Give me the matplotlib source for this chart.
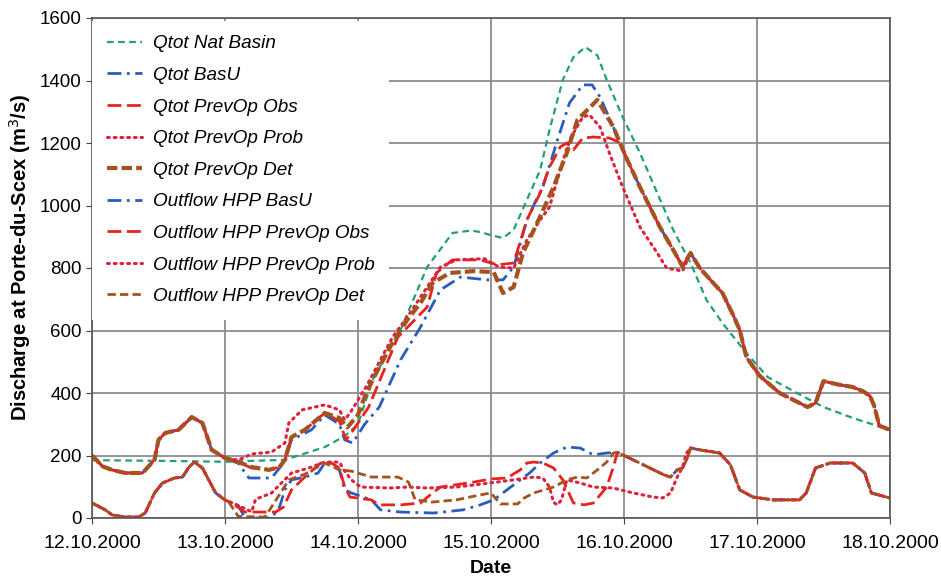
import matplotlib
matplotlib.use("Agg")
import matplotlib.pyplot as plt

plt.rcParams["font.family"] = ["Liberation Sans", "DejaVu Sans"]

# time axis in days after 12.10.2000 00:00
date_labels = ["12.10.2000", "13.10.2000", "14.10.2000", "15.10.2000",
               "16.10.2000", "17.10.2000", "18.10.2000"]

# total discharge, natural basin
nat_days = [0, 0.5, 1.0, 1.45, 1.75, 1.9, 2.0, 2.11, 2.32, 2.52, 2.71, 2.85, 2.92,
            3.0, 3.09, 3.17, 3.27, 3.37, 3.44, 3.54, 3.62, 3.71, 3.8, 3.87, 3.99,
            4.12, 4.25, 4.37, 4.5, 4.62, 4.74, 4.92, 5.08, 5.3, 5.5, 5.72, 6.0]
nat_q = [185, 183, 180, 186, 227, 262, 300, 442, 602, 803, 912, 920, 915,
         905, 896, 922, 1018, 1114, 1242, 1402, 1475, 1507, 1480, 1402, 1283,
         1168, 1040, 922, 816, 698, 624, 528, 451, 400, 355, 320, 282]

# Qtot: common start (day 0-1) and common end (day 4-6)
qtot_head_days = [0, 0.08, 0.15, 0.25, 0.38, 0.47, 0.5, 0.55, 0.65, 0.75, 0.83, 0.9, 1.0]
qtot_head_q = [200, 165, 154, 144, 144, 186, 250, 272, 282, 323, 304, 218, 192]
qtot_tail_days = [3.97, 4.02, 4.12, 4.27, 4.37, 4.44, 4.5, 4.57, 4.65, 4.74, 4.82, 4.87,
                  4.92, 5.02, 5.17, 5.38, 5.44, 5.5, 5.6, 5.72, 5.8, 5.85, 5.88,
                  5.92, 6.0]
qtot_tail_q = [1200, 1150, 1059, 931, 858, 805, 848, 800, 762, 720, 650, 602,
               515, 455, 400, 355, 368, 438, 428, 419, 405, 390, 360,
               295, 282]

basu_mid_days = [1.1, 1.18, 1.35, 1.41, 1.45, 1.5, 1.65, 1.75, 1.86, 1.9, 1.96,
                 2.05, 2.16, 2.32, 2.47, 2.62, 2.77, 2.97, 3.09, 3.17, 3.27, 3.35,
                 3.39, 3.5, 3.59, 3.69, 3.76, 3.82, 3.92]
basu_mid_q = [175, 128, 128, 160, 186, 250, 282, 330, 300, 250, 240,
              300, 355, 506, 611, 730, 771, 762, 762, 803, 954, 1027,
              1059, 1210, 1328, 1386, 1386, 1347, 1251]

obs_mid_days = [1.1, 1.2, 1.33, 1.41, 1.45, 1.5, 1.6, 1.75, 1.86, 1.91, 1.95,
                2.08, 2.3, 2.52, 2.59, 2.71, 2.92, 3.05, 3.17, 3.27, 3.37, 3.44,
                3.52, 3.57, 3.62, 3.69, 3.77, 3.89, 3.95]
obs_mid_q = [179, 160, 154, 163, 186, 259, 282, 336, 310, 250, 272,
             355, 579, 675, 784, 826, 826, 810, 816, 954, 1040, 1123,
             1187, 1200, 1178, 1216, 1219, 1216, 1205]

prob_mid_days = [1.1, 1.2, 1.35, 1.45, 1.48, 1.58, 1.75, 1.86, 1.9, 1.94, 2.06,
                 2.26, 2.37, 2.52, 2.62, 2.74, 2.95, 3.06, 3.17, 3.27, 3.37, 3.44,
                 3.52, 3.59, 3.69, 3.74, 3.82, 3.89, 3.99, 4.12, 4.25, 4.32, 4.44]
prob_mid_q = [185, 205, 211, 240, 304, 346, 362, 346, 314, 336, 419,
              579, 643, 739, 803, 826, 830, 803, 800, 890, 954, 995,
              1114, 1210, 1283, 1290, 1251, 1168, 1059, 931, 848, 800, 790]

det_mid_days = [1.1, 1.2, 1.33, 1.41, 1.45, 1.5, 1.6, 1.75, 1.86, 1.92, 2.0,
                2.05, 2.11, 2.24, 2.37, 2.47, 2.56, 2.69, 2.87, 3.02, 3.09, 3.17,
                3.24, 3.37, 3.47, 3.57, 3.65, 3.8, 3.92]
det_mid_q = [179, 163, 154, 163, 186, 259, 282, 336, 320, 290, 330,
             387, 442, 547, 634, 688, 752, 784, 790, 787, 720, 739,
             848, 965, 1059, 1168, 1274, 1338, 1251]

# outflow HPP: common start and end
out_head_days = [0, 0.1, 0.15, 0.25, 0.35, 0.4, 0.47, 0.53, 0.62, 0.68, 0.73,
                 0.77, 0.83, 0.89, 0.93, 0.98, 1.0]
out_head_q = [48, 26, 10, 3, 3, 16, 80, 112, 128, 131, 163,
              179, 160, 112, 80, 64, 58]
out_tail_days = [3.95, 4.0, 4.18, 4.3, 4.35, 4.4, 4.44, 4.47, 4.5, 4.57, 4.72,
                 4.8, 4.87, 4.97, 5.12, 5.32, 5.37, 5.44, 5.55, 5.72, 5.81, 5.86,
                 6.0]
out_tail_q = [210, 200, 163, 138, 131, 154, 160, 186, 224, 218, 208,
              170, 90, 67, 58, 58, 80, 160, 176, 176, 144, 80,
              64]

out_basu_mid_days = [1.03, 1.1, 1.15, 1.35, 1.41, 1.45, 1.5, 1.6, 1.7, 1.75, 1.8,
                     1.86, 1.9, 1.95, 2.02, 2.1, 2.17, 2.32, 2.57, 2.79, 2.92, 3.02,
                     3.12, 3.22, 3.29, 3.37, 3.47, 3.57, 3.67, 3.77, 3.87]
out_basu_mid_q = [51, 40, 0, 0, 35, 90, 122, 131, 144, 176, 176,
                  154, 90, 80, 70, 58, 26, 19, 16, 26, 42, 58,
                  90, 122, 144, 176, 208, 227, 224, 202, 208]

out_obs_mid_days = [1.05, 1.15, 1.2, 1.38, 1.44, 1.5, 1.6, 1.72, 1.8, 1.86, 1.9,
                    1.94, 2.1, 2.16, 2.32, 2.47, 2.56, 2.62, 2.87, 3.0, 3.12, 3.22,
                    3.27, 3.32, 3.39, 3.47, 3.54, 3.62, 3.7, 3.77, 3.87, 3.92]
out_obs_mid_q = [48, 19, 19, 19, 35, 90, 131, 176, 176, 160, 99,
                 67, 58, 42, 42, 48, 80, 99, 115, 125, 128, 154,
                 176, 179, 176, 160, 122, 48, 42, 48, 99, 163]

out_prob_mid_days = [1.1, 1.2, 1.23, 1.35, 1.41, 1.5, 1.63, 1.75, 1.86, 1.9, 1.95,
                     2.02, 2.24, 2.37, 2.52, 2.74, 2.99, 3.17, 3.32, 3.39, 3.44, 3.47,
                     3.5, 3.53, 3.57, 3.67, 3.77, 3.92, 4.07, 4.22, 4.29, 4.35, 4.4,
                     4.44, 4.47]
out_prob_mid_q = [40, 20, 60, 80, 106, 144, 160, 179, 179, 150, 122,
                  99, 96, 99, 96, 99, 112, 122, 131, 128, 99, 50,
                  42, 58, 122, 112, 99, 96, 80, 67, 64, 80, 131,
                  163, 208]

out_det_mid_days = [1.03, 1.1, 1.3, 1.36, 1.48, 1.6, 1.75, 1.86, 1.95, 2.1, 2.3,
                    2.38, 2.43, 2.56, 2.74, 2.92, 3.0, 3.07, 3.2, 3.25, 3.32, 3.47,
                    3.57, 3.65, 3.72, 3.8, 3.87, 3.92]
out_det_mid_q = [50, 5, 3, 42, 122, 140, 176, 154, 150, 131, 131,
                 115, 58, 51, 58, 74, 80, 45, 45, 64, 80, 99,
                 122, 131, 128, 154, 179, 208]

GREEN = "#22a070"
BLUE = "#2a5cc0"
RED = "#e8231e"
CRIMSON = "#e0203c"
BROWN = "#a5521e"


def join(head_d, head_q, mid_d, mid_q, tail_d, tail_q):
    days = list(head_d) + list(mid_d) + [d for d in tail_d if d > mid_d[-1]]
    q = list(head_q) + list(mid_q) + [v for d, v in zip(tail_d, tail_q) if d > mid_d[-1]]
    return days, q


fig = plt.figure(figsize=(9.41, 5.83), dpi=100)
ax = fig.add_axes([92 / 941, 1 - 518 / 583, 798 / 941, 500 / 583])

series = [
    ("Qtot Nat Basin", (nat_days, nat_q), dict(color=GREEN, lw=1.6, dashes=(3, 2))),
    ("Qtot BasU", join(qtot_head_days, qtot_head_q, basu_mid_days, basu_mid_q,
                       qtot_tail_days, qtot_tail_q),
     dict(color=BLUE, lw=2.0, dashes=(5, 2, 1, 2))),
    ("Qtot PrevOp Obs", join(qtot_head_days, qtot_head_q, obs_mid_days, obs_mid_q,
                             qtot_tail_days, qtot_tail_q),
     dict(color=RED, lw=2.0, dashes=(5, 2))),
    ("Qtot PrevOp Prob", join(qtot_head_days, qtot_head_q, prob_mid_days, prob_mid_q,
                              qtot_tail_days, qtot_tail_q),
     dict(color=CRIMSON, lw=2.2, dashes=(0.6, 1.6), dash_capstyle="round")),
    ("Qtot PrevOp Det", join(qtot_head_days, qtot_head_q, det_mid_days, det_mid_q,
                             qtot_tail_days, qtot_tail_q),
     dict(color=BROWN, lw=3.0, dashes=(2.5, 1))),
    ("Outflow HPP BasU", join(out_head_days, out_head_q, out_basu_mid_days, out_basu_mid_q,
                              out_tail_days, out_tail_q),
     dict(color=BLUE, lw=2.0, dashes=(5, 2, 1, 2))),
    ("Outflow HPP PrevOp Obs", join(out_head_days, out_head_q, out_obs_mid_days, out_obs_mid_q,
                                    out_tail_days, out_tail_q),
     dict(color=RED, lw=2.0, dashes=(5, 2))),
    ("Outflow HPP PrevOp Prob", join(out_head_days, out_head_q, out_prob_mid_days, out_prob_mid_q,
                                     out_tail_days, out_tail_q),
     dict(color=CRIMSON, lw=2.2, dashes=(0.6, 1.6), dash_capstyle="round")),
    ("Outflow HPP PrevOp Det", join(out_head_days, out_head_q, out_det_mid_days, out_det_mid_q,
                                    out_tail_days, out_tail_q),
     dict(color=BROWN, lw=2.0, dashes=(3, 1.5))),
]

for label, (days, q), style in series:
    ax.plot(days, q, label=label, **style)

ax.set_xlim(0, 6)
ax.set_ylim(0, 1600)
ax.set_xticks(range(len(date_labels)))
ax.set_xticklabels(date_labels, fontsize=14)
ax.set_yticks(range(0, 1601, 200))
ax.tick_params(axis="y", labelsize=13.5, length=4, color="#444444")
ax.tick_params(axis="x", length=4, color="#444444", pad=8)
ax.grid(True, color="#8c8c8c", lw=1.3)
ax.set_axisbelow(True)
for side in ax.spines.values():
    side.set_color("#555555")
    side.set_linewidth(1.2)

ax.set_xlabel("Date", fontsize=14, fontweight="bold", labelpad=6)
ax.set_ylabel("Discharge at Porte-du-Scex (m$^3$/s)", fontsize=14.5, fontweight="bold")
ax.yaxis.set_label_coords(-0.074, 0.522)

leg = ax.legend(loc="upper left", bbox_to_anchor=(0.0, 0.995), frameon=True,
                facecolor="white", edgecolor="none", framealpha=1.0,
                prop=dict(size=13.6, style="italic"), handlelength=1.85,
                handletextpad=0.6, labelspacing=0.76, borderpad=0.78,
                borderaxespad=0.0, fancybox=False)

fig.savefig("out.png", dpi=100)
